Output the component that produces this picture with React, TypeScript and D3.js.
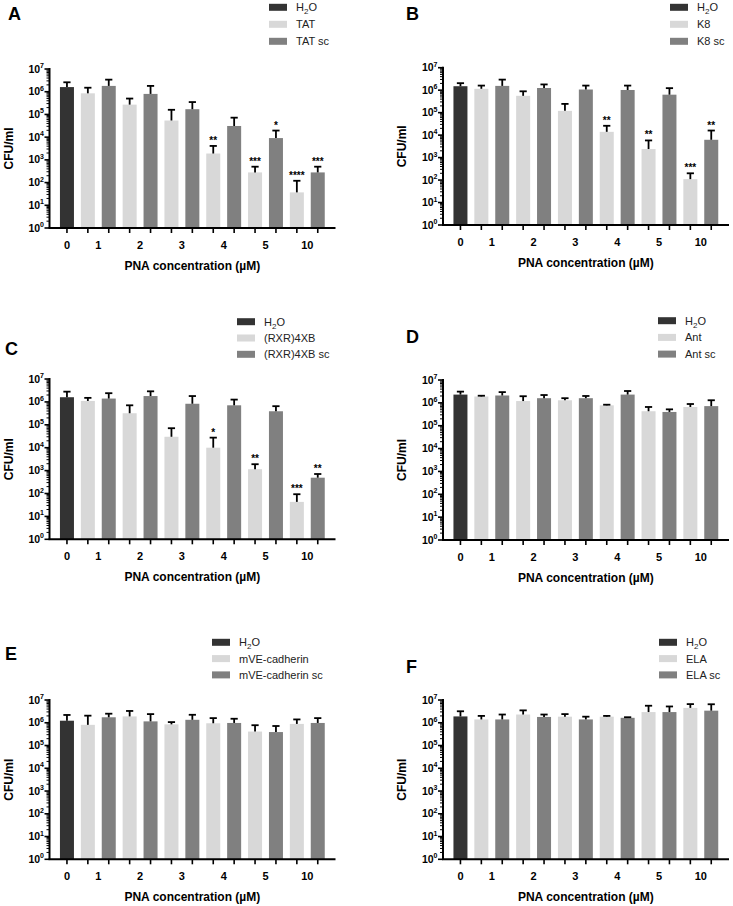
import React from "react";
import * as d3 from "d3";

// ---------- data ----------
const groupLabels = ["0", "1", "2", "3", "4", "5", "10"];
// bar index -> group index (bar 0 = H2O control, then peptide / scrambled pairs)
const barGroups = [0, 1, 1, 2, 2, 3, 3, 4, 4, 5, 5, 6, 6];

const panelLetters = ["A", "B", "C", "D", "E", "F"];
const peptideNames = ["TAT", "K8", "(RXR)4XB", "Ant", "mVE-cadherin", "ELA"];

const meansA = [1.6e6, 8.5e5, 1.8e6, 2.7e5, 8.0e5, 5.4e4, 1.7e5, 1.9e3, 3.1e4, 2.8e2, 9.1e3, 37, 2.8e2];
const upperA = [2.6e6, 1.5e6, 3.4e6, 5.0e5, 1.8e6, 1.6e5, 3.5e5, 4.1e3, 7.2e4, 5.0e2, 1.95e4, 1.2e2, 5.0e2];
const starsA = ["", "", "", "", "", "", "", "**", "", "***", "*", "****", "***"];

const meansB = [1.5e6, 1.15e6, 1.55e6, 5.6e5, 1.25e6, 1.2e5, 1.07e6, 1.4e4, 1.02e6, 2.4e3, 6.3e5, 110, 6.2e3];
const upperB = [2.05e6, 1.6e6, 2.95e6, 8.9e5, 1.8e6, 2.45e5, 1.6e6, 2.6e4, 1.6e6, 5.8e3, 1.23e6, 2.0e2, 1.6e4];
const starsB = ["", "", "", "", "", "", "", "**", "", "**", "", "***", "**"];

const meansC = [1.6e6, 1.1e6, 1.4e6, 3.2e5, 1.8e6, 3.0e4, 8.3e5, 1.0e4, 7.1e5, 1.15e3, 3.9e5, 43, 4.9e2];
const upperC = [2.8e6, 1.5e6, 2.4e6, 7.1e5, 2.9e6, 7.1e4, 1.8e6, 2.75e4, 1.26e6, 1.9e3, 6.5e5, 93, 7.1e2];
const starsC = ["", "", "", "", "", "", "", "*", "", "**", "", "***", "**"];

const meansD = [2.3e6, 1.9e6, 2.1e6, 1.2e6, 1.6e6, 1.3e6, 1.6e6, 7.8e5, 2.3e6, 4.3e5, 4.0e5, 6.6e5, 7.2e5];
const upperD = [3.1e6, 2.05e6, 2.95e6, 1.95e6, 2.2e6, 1.6e6, 2.0e6, 8.3e5, 3.3e6, 6.6e5, 5.2e5, 8.9e5, 1.3e6];
const starsD = ["", "", "", "", "", "", "", "", "", "", "", "", ""];

const meansE = [1.23e6, 8.1e5, 1.74e6, 1.9e6, 1.15e6, 8.5e5, 1.35e6, 9.5e5, 9.8e5, 4.1e5, 3.9e5, 8.9e5, 9.8e5];
const upperE = [2.2e6, 2.05e6, 2.5e6, 3.3e6, 2.4e6, 1.07e6, 2.24e6, 1.6e6, 1.5e6, 7.8e5, 7.2e5, 1.4e6, 1.6e6];
const starsE = ["", "", "", "", "", "", "", "", "", "", "", "", ""];

const meansF = [1.9e6, 1.4e6, 1.4e6, 2.3e6, 1.8e6, 1.85e6, 1.4e6, 1.85e6, 1.65e6, 2.95e6, 2.95e6, 4.5e6, 3.4e6];
const upperF = [3.2e6, 2.0e6, 2.3e6, 3.5e6, 2.3e6, 2.4e6, 1.85e6, 2.0e6, 1.75e6, 5.6e6, 5.2e6, 6.6e6, 6.5e6];
const starsF = ["", "", "", "", "", "", "", "", "", "", "", "", ""];

const yExponents = [0, 1, 2, 3, 4, 5, 6, 7];

// ---------- layout (positions only) ----------
const layouts = [
  { axisX: 49.5, yTop: 69, yBot: 228, letter: [8, 20], legend: [269, 7.3, 17] },
  { axisX: 443, yTop: 67.7, yBot: 225, letter: [406, 20], legend: [670, 7.3, 17] },
  { axisX: 49.5, yTop: 379, yBot: 539.3, letter: [5, 355], legend: [237, 321.7, 16.3] },
  { axisX: 443, yTop: 380, yBot: 540, letter: [406, 342.7], legend: [658, 320.7, 16.7] },
  { axisX: 49.5, yTop: 700, yBot: 859.3, letter: [5, 660], legend: [212, 642.3, 16.3] },
  { axisX: 443, yTop: 700, yBot: 859.3, letter: [406, 673], legend: [659, 642.3, 16.3] },
];

const panelData = [
  { means: meansA, upper: upperA, stars: starsA },
  { means: meansB, upper: upperB, stars: starsB },
  { means: meansC, upper: upperC, stars: starsC },
  { means: meansD, upper: upperD, stars: starsD },
  { means: meansE, upper: upperE, stars: starsE },
  { means: meansF, upper: upperF, stars: starsF },
];

const COLORS = { h2o: "#333333", pep: "#d8d8d8", sc: "#808080" };
const FONT = "'Liberation Sans', Arial, Helvetica, sans-serif";

function barColor(i: number) {
  if (i === 0) return COLORS.h2o;
  return i % 2 === 1 ? COLORS.pep : COLORS.sc;
}

function Panel({ idx }: { idx: number }) {
  const L = layouts[idx];
  const D = panelData[idx];
  const pep = peptideNames[idx];
  const y = d3.scaleLog().domain([1, 1e7]).range([L.yBot, L.yTop]);
  const step = 20.9;
  const x = d3
    .scaleBand<number>()
    .domain(d3.range(13))
    .range([L.axisX + 7, L.axisX + 7 + 13 * step])
    .paddingInner(0.33)
    .paddingOuter(0.165);
  const bw = x.bandwidth();
  const cx = (i: number) => (x(i) as number) + bw / 2;
  const axisEnd = L.axisX + 286;

  // minor ticks
  const minor: number[] = [];
  for (let e = 0; e < 7; e++) for (let k = 2; k <= 9; k++) minor.push(k * Math.pow(10, e));

  const groupCenters = groupLabels.map((_, g) => {
    const members = barGroups.map((gg, i) => (gg === g ? i : -1)).filter((i) => i >= 0);
    return d3.mean(members.map(cx)) as number;
  });

  const legendItems = [
    { key: "h2o", color: COLORS.h2o },
    { key: pep, color: COLORS.pep },
    { key: pep + " sc", color: COLORS.sc },
  ];

  const plotCenter = (cx(0) + cx(12)) / 2;

  return (
    <g fontFamily={FONT}>
      {/* panel letter */}
      <text x={L.letter[0]} y={L.letter[1]} fontSize={18} fontWeight="bold" fill="#000">
        {panelLetters[idx]}
      </text>

      {/* legend */}
      {legendItems.map((it, k) => {
        const ly = L.legend[1] + k * L.legend[2];
        return (
          <g key={k}>
            <rect x={L.legend[0]} y={ly - 3.5} width={18} height={7} fill={it.color} />
            <text x={L.legend[0] + 27} y={ly + 4} fontSize={11} fill="#222">
              {it.key === "h2o" ? (
                <>
                  H<tspan fontSize={8} dy={3}>2</tspan>
                  <tspan dy={-3}>O</tspan>
                </>
              ) : (
                it.key
              )}
            </text>
          </g>
        );
      })}

      {/* bars */}
      {D.means.map((m, i) => (
        <rect key={"b" + i} x={x(i)} y={y(m)} width={bw} height={L.yBot - y(m)} fill={barColor(i)} />
      ))}

      {/* error bars */}
      {D.upper.map((u, i) => (
        <g key={"e" + i} stroke="#000" strokeWidth={1.8}>
          <line x1={cx(i)} x2={cx(i)} y1={y(D.means[i])} y2={y(u)} />
          <line x1={cx(i) - 3.6} x2={cx(i) + 3.6} y1={y(u)} y2={y(u)} />
        </g>
      ))}

      {/* significance stars */}
      {D.stars.map((s, i) =>
        s ? (
          <text key={"s" + i} x={cx(i)} y={y(D.upper[i]) - 2} fontSize={10} fontWeight="bold" textAnchor="middle" fill="#000">
            {s}
          </text>
        ) : null
      )}

      {/* y axis */}
      <line x1={L.axisX} x2={L.axisX} y1={L.yTop - 1} y2={L.yBot} stroke="#000" strokeWidth={2} />
      {minor.map((v, k) => (
        <line key={"m" + k} x1={L.axisX - 3} x2={L.axisX} y1={y(v)} y2={y(v)} stroke="#000" strokeWidth={1} />
      ))}
      {yExponents.map((e) => {
        const yy = y(Math.pow(10, e));
        return (
          <g key={"y" + e}>
            <line x1={L.axisX - 5} x2={L.axisX} y1={yy} y2={yy} stroke="#000" strokeWidth={1.6} />
            <text x={L.axisX - 5.5} y={yy + 3.5} fontSize={10.5} fontWeight="bold" textAnchor="end" fill="#000">
              10<tspan fontSize={7} dy={-4.5}>{e}</tspan>
            </text>
          </g>
        );
      })}
      <text
        transform={`translate(${L.axisX - 37},${(L.yTop + L.yBot) / 2}) rotate(-90)`}
        fontSize={12}
        fontWeight="bold"
        textAnchor="middle"
        fill="#000"
      >
        CFU/ml
      </text>

      {/* x axis */}
      <line x1={L.axisX - 1} x2={axisEnd} y1={L.yBot} y2={L.yBot} stroke="#000" strokeWidth={2} />
      {d3.range(13).map((i) => (
        <line key={"t" + i} x1={cx(i)} x2={cx(i)} y1={L.yBot} y2={L.yBot + 5} stroke="#000" strokeWidth={1.6} />
      ))}
      {groupLabels.map((g, k) => (
        <text key={"g" + k} x={groupCenters[k]} y={L.yBot + 21} fontSize={11} fontWeight="bold" textAnchor="middle" fill="#000">
          {g}
        </text>
      ))}
      <text x={plotCenter} y={L.yBot + 42} fontSize={12} fontWeight="bold" textAnchor="middle" fill="#000">
        PNA concentration (µM)
      </text>
    </g>
  );
}

export default function App() {
  return (
    <svg
      width={733}
      height={906}
      viewBox="0 0 733 906"
      style={{ position: "absolute", left: 0, top: 0, background: "#fff" }}
    >
      <rect width={733} height={906} fill="#fff" />
      {panelLetters.map((_, i) => (
        <Panel key={i} idx={i} />
      ))}
    </svg>
  );
}
